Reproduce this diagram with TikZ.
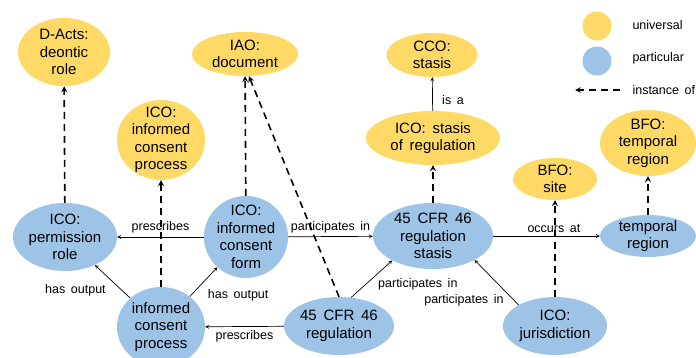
\documentclass[tikz,border=0pt]{standalone}
\usepackage{fontspec}
\setmainfont{Liberation Sans}
\usetikzlibrary{shapes.geometric, arrows, positioning}
\definecolor{uniyellow}{HTML}{FFD966}
\definecolor{partblue}{HTML}{9DC3E6}
\newcommand{\nodefont}{\fontsize{15}{17.5}\selectfont\spaceskip=.45em}
\newcommand{\relfont}{\fontsize{12.5}{14}\selectfont\spaceskip=.45em}

\begin{document}
\begin{tikzpicture}[>=stealth, x=1pt, y=-1pt, font=\relfont,
  txt/.style={align=center, font=\nodefont, inner sep=0pt},
  tx/.style={label={[txt]center:{#1}}},
  uni/.style={ellipse, fill=uniyellow, inner sep=0pt},
  part/.style={ellipse, fill=partblue, inner sep=0pt},
  inst/.style={->, line width=1.6pt, dash pattern=on 7pt off 5pt},
  rel/.style={->, line width=.7pt}]
\useasboundingbox (0,0) rectangle (696,358);
%
% universals
\node[uni, minimum width=92pt, minimum height=68pt, tx={D-Acts:\\deontic\\role}] (deontic) at (64,52) {};
\node[uni, minimum width=106pt, minimum height=44pt, tx={IAO:\\document}] (doc) at (245,54) {};
\node[uni, minimum width=88pt, minimum height=80pt, tx={ICO:\\informed\\consent\\process}] (icpy) at (161,140) {};
\node[uni, minimum width=91pt, minimum height=44pt, tx={CCO:\\stasis}] (cco) at (432,55) {};
\node[uni, minimum width=134pt, minimum height=54pt, tx={ICO: stasis\\of regulation}] (statreg) at (433,138) {};
\node[uni, minimum width=84pt, minimum height=42pt, tx={BFO:\\site}] (site) at (555,179) {};
\node[uni, minimum width=96pt, minimum height=66pt, tx={BFO:\\temporal\\region}] (bfotemp) at (648,143) {};
%
% particulars
\node[part, minimum width=104pt, minimum height=68pt, tx={ICO:\\permission\\role}] (perm) at (65,237) {};
\node[part, minimum width=84pt, minimum height=82pt, tx={ICO:\\informed\\consent\\form}] (form) at (246,237) {};
\node[part, minimum width=88pt, minimum height=80pt, tx={informed\\consent\\process}] (icpb) at (161,327) {};
\node[part, minimum width=110pt, minimum height=58pt, tx={45 CFR 46\\regulation}] (reg) at (339,326) {};
\node[part, minimum width=120pt, minimum height=66pt, tx={45 CFR 46\\regulation\\stasis}] (stasis) at (433,236) {};
\node[part, minimum width=96pt, minimum height=42pt, tx={temporal\\region}] (tempr) at (648,236) {};
\node[part, minimum width=104pt, minimum height=58pt, tx={ICO:\\jurisdiction}] (juris) at (555,326) {};
%
% instance of
\draw[inst] (perm) -- (deontic);
\draw[inst] (icpb) -- (icpy);
\draw[inst] (form) -- (doc);
\draw[inst] (reg.north) -- (doc.-80);
\draw[inst] (stasis) -- (statreg);
\draw[inst] (juris) -- (site);
\draw[inst] (tempr) -- (bfotemp);
%
% relations
\draw[rel] (statreg) -- node[pos=.33, right=6pt] {is a} (cco);
\draw[rel] (form) -- node[above] {prescribes} (perm);
\draw[rel] (form) -- node[above] {participates in} (stasis);
\draw[rel] (stasis) -- node[pos=.57, above] {occurs at} (tempr);
\draw[rel] (icpb) -- node[pos=.25, left=12pt] {has output} (perm);
\draw[rel] (icpb) -- node[pos=.05, right=13pt] {has output} (form);
\draw[rel] (reg) -- node[below] {prescribes} (icpb);
\draw[rel] (reg.67) -- node[pos=.35, right=9pt] {participates in} (stasis.211);
\draw[rel] (juris.150) -- node[pos=.1, left=7pt] {participates in} (stasis.-30);
%
% key
\node[circle, fill=uniyellow, minimum size=29pt, inner sep=0pt] (keyuni) at (597,26) {};
\node[circle, fill=partblue, minimum size=29pt, inner sep=0pt] (keypart) at (597,61) {};
\node[right] (keyunitext) at (629,25) {universal};
\node[right] (keyparttext) at (629,58) {particular};
\coordinate (keyinsta) at (620,90);
\coordinate (keyinstb) at (575,90);
\draw[inst] (keyinsta) -- (keyinstb);
\node[right] (keyinsttext) at (629,90) {instance of};
\end{tikzpicture}
\end{document}
